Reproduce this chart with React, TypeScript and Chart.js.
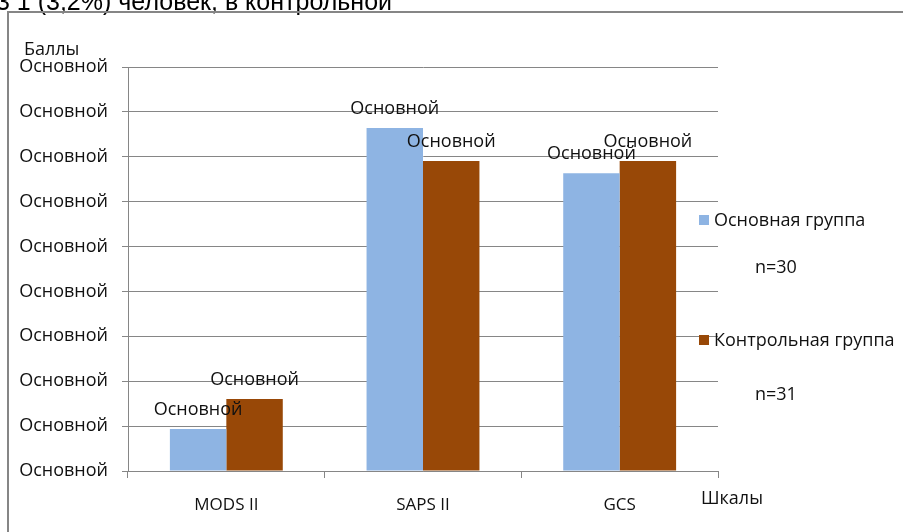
import React, { useEffect, useRef } from "react";
import { Chart, registerables } from "chart.js";

Chart.register(...registerables);

const categories = ["MODS II", "SAPS II", "GCS"];
const mainGroup = [1.87, 15.28, 13.27];
const controlGroup = [3.21, 13.81, 13.81];
const tickLabel = "Основной";
const dataLabel = "Основной";
const seriesNames = ["Основная группа", "Контрольная группа"];
const groupSizes = ["n=30", "n=31"];
const yTitle = "Баллы";
const xTitle = "Шкалы";
const headerText = "3 1 (3,2%) человек, в контрольной";

const FONT = "'Open Sans', sans-serif";
const FS = 18;
const BLUE = "#8EB4E3";
const BROWN = "#984807";
const GRID = "#868686";
const TEXT = "#111111";

export default function App() {
  const ref = useRef<HTMLCanvasElement | null>(null);

  useEffect(() => {
    if (!ref.current) return;
    const overlay = {
      id: "overlay",
      afterDraw(chart: any) {
        const ctx = chart.ctx;
        ctx.save();
        ctx.fillStyle = "#000";
        ctx.font = `25px 'Liberation Sans', Arial, sans-serif`;
        ctx.textAlign = "left";
        ctx.textBaseline = "alphabetic";
        ctx.fillText(headerText, -4, 10);
        ctx.strokeStyle = GRID;
        ctx.lineWidth = 2;
        ctx.beginPath();
        ctx.moveTo(8, 540);
        ctx.lineTo(8, 12);
        ctx.lineTo(910, 12);
        ctx.stroke();
        ctx.fillStyle = TEXT;
        ctx.font = `${FS}px ${FONT}`;
        ctx.textAlign = "center";
        [0, 1].forEach((di) => {
          const meta = chart.getDatasetMeta(di);
          meta.data.forEach((bar: any) => {
            ctx.fillText(dataLabel, bar.x, bar.y - 14);
          });
        });
        ctx.textAlign = "left";
        ctx.fillText(yTitle, 24, 55);
        ctx.fillText(xTitle, 701, 504);
        const colors = [BLUE, BROWN];
        const ys = [226, 346];
        const ny = [273, 400];
        [0, 1].forEach((i) => {
          ctx.fillStyle = colors[i];
          ctx.fillRect(699, ys[i] - 11, 10, 10);
          ctx.fillStyle = TEXT;
          ctx.fillText(seriesNames[i], 714, ys[i]);
          ctx.fillText(groupSizes[i], 755, ny[i]);
        });
        ctx.restore();
      },
    };

    const chart = new Chart(ref.current, {
      type: "bar",
      data: {
        labels: categories,
        datasets: [
          { label: seriesNames[0], data: mainGroup, backgroundColor: BLUE },
          { label: seriesNames[1], data: controlGroup, backgroundColor: BROWN },
        ],
      },
      options: {
        responsive: false,
        animation: false,
        layout: { padding: { top: 67, right: 185, left: 0, bottom: 0 } },
        plugins: { legend: { display: false }, tooltip: { enabled: false } },
        datasets: { bar: { categoryPercentage: 0.574, barPercentage: 1 } },
        scales: {
          x: {
            grid: { display: true, drawOnChartArea: false, drawTicks: true, tickLength: 7, color: GRID, offset: true },
            border: { display: true, color: GRID },
            ticks: { font: { size: 17, family: FONT }, color: TEXT, padding: 17 },
            afterFit: (s: any) => { s.height = 61; },
          },
          y: {
            min: 0,
            max: 18,
            ticks: { stepSize: 2, callback: () => tickLabel, padding: 14, font: { size: FS, family: FONT }, color: TEXT },
            grid: { color: GRID, tickLength: 6 },
            border: { color: GRID },
            afterFit: (s: any) => { s.width = 128; },
          },
        },
      },
      plugins: [overlay],
    });
    return () => chart.destroy();
  }, []);

  return (
    <div style={{ position: "absolute", left: 0, top: 0, width: 903, height: 532, background: "#fff" }}>
      <canvas ref={ref} width={903} height={532} style={{ display: "block" }} />
    </div>
  );
}
